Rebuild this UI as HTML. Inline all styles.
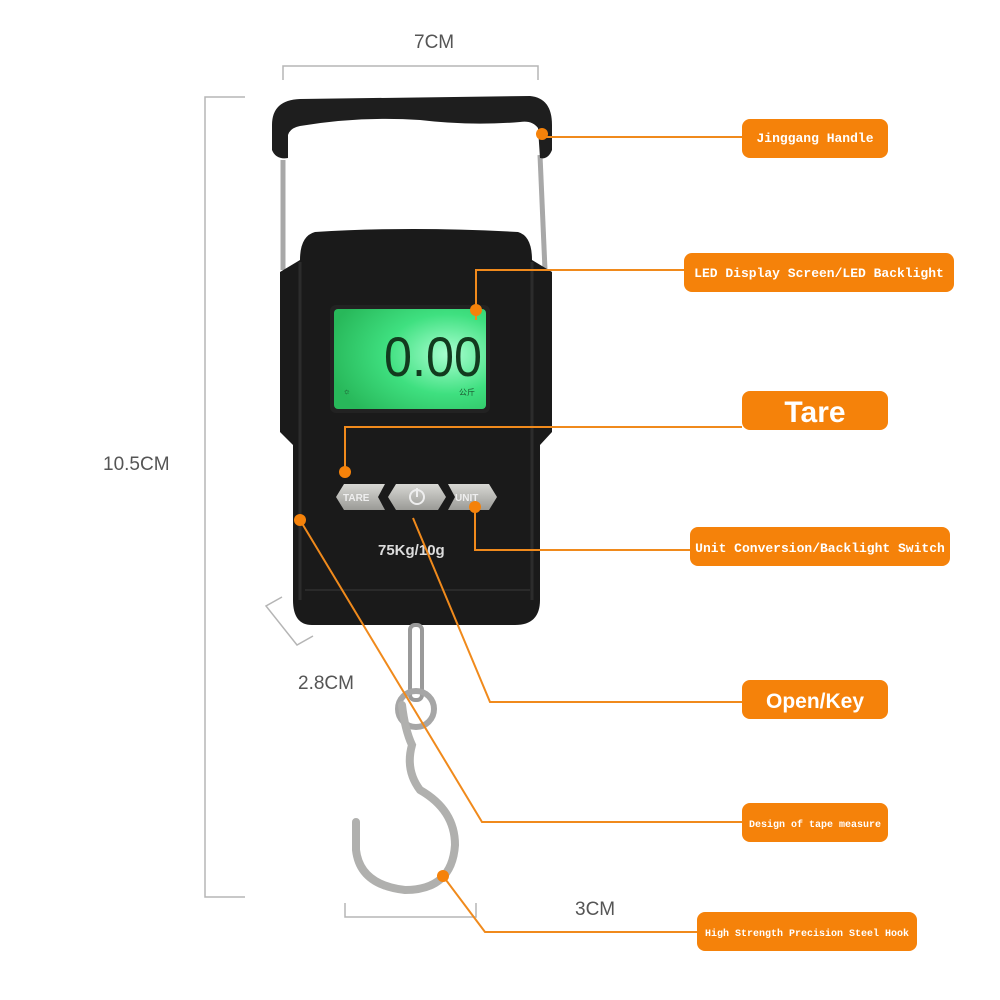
<!DOCTYPE html>
<html><head><meta charset="utf-8"><style>
html,body{margin:0;padding:0;background:#fff;width:1000px;height:1000px;overflow:hidden}
text{font-family:"Liberation Mono","DejaVu Sans Mono",monospace}
</style></head><body>
<svg width="1000" height="1000" viewBox="0 0 1000 1000" xmlns="http://www.w3.org/2000/svg">
<defs>
<radialGradient id="scr" cx="0.75" cy="0.45" r="0.8">
<stop offset="0" stop-color="#a8ffd0"/><stop offset="0.5" stop-color="#3fe080"/><stop offset="1" stop-color="#28b85a"/>
</radialGradient>
<linearGradient id="btn" x1="0" y1="0" x2="0" y2="1"><stop offset="0" stop-color="#d8d8d4"/><stop offset="1" stop-color="#9a9a96"/></linearGradient>
</defs>
<g stroke="#b5b5b5" stroke-width="1.5" fill="none">
<path d="M283,80 V66 H538 V80"/>
<path d="M245,97 H205 V897 H245"/>
<path d="M345,903 V917 H476 V903"/>
<path d="M282,597 L266,606 L297,645 L313,636"/>
</g>
<g fill="#555" font-size="19">
<text x="414" y="48" style="font-family:'Liberation Sans',sans-serif">7CM</text>
<text x="103" y="470" style="font-family:'Liberation Sans',sans-serif">10.5CM</text>
<text x="298" y="689" style="font-family:'Liberation Sans',sans-serif">2.8CM</text>
<text x="575" y="915" style="font-family:'Liberation Sans',sans-serif">3CM</text>
</g>
<g stroke="#a8a8a8" stroke-width="5" fill="none">
<path d="M283,160 L283,270"/><path d="M540,155 L545,270"/>
</g>
<path d="M272,125 Q272,100 300,99 L530,96 Q552,98 552,125 L552,150 Q548,160 540,158 L538,128 Q532,120 520,122 Q470,126 420,120 Q360,116 300,126 Q290,128 288,135 L288,158 Q276,160 272,150 Z" fill="#1e1e1e"/>
<path d="M315,232 Q410,226 518,232 Q532,236 532,260 L552,272 L552,432 L540,445 L540,600 Q540,625 515,625 L312,625 Q293,625 293,600 L293,445 L280,432 L280,272 L300,260 Q300,236 315,232 Z" fill="#1a1a1a"/>
<path d="M300,262 L300,600 M532,262 L532,600" stroke="#2c2c2c" stroke-width="3"/>
<path d="M305,590 L530,590" stroke="#2a2a2a" stroke-width="2"/>
<rect x="330" y="305" width="160" height="108" rx="6" fill="#222"/>
<rect x="334" y="309" width="152" height="100" rx="4" fill="url(#scr)"/>
<text x="384" y="376" font-size="56" fill="#123a1e" textLength="98" lengthAdjust="spacingAndGlyphs" style="font-family:'Liberation Sans',sans-serif">0.00</text>
<text x="344" y="394" font-size="9" fill="#1d5530">☼</text>
<text x="459" y="395" font-size="8" fill="#1d5530" style="font-family:'Noto Sans CJK SC',sans-serif">公斤</text>
<polygon points="344,484 385,484 378,497 385,510 344,510 336,497" fill="url(#btn)"/>
<polygon points="396,484 438,484 446,497 438,510 396,510 388,497" fill="url(#btn)"/>
<polygon points="448,484 489,484 497,497 489,510 448,510 455,497" fill="url(#btn)"/>
<text x="343" y="501" font-size="10" font-weight="bold" fill="#eee" style="font-family:'Liberation Sans',sans-serif">TARE</text>
<text x="455" y="501" font-size="10" font-weight="bold" fill="#eee" style="font-family:'Liberation Sans',sans-serif">UNIT</text>
<circle cx="417" cy="497" r="7" fill="none" stroke="#eee" stroke-width="2"/>
<line x1="417" y1="488" x2="417" y2="497" stroke="#eee" stroke-width="2"/>
<text x="378" y="555" font-size="15" font-weight="bold" fill="#ddd" style="font-family:'Liberation Sans',sans-serif">75Kg/10g</text>
<rect x="410" y="625" width="12" height="75" rx="5" fill="none" stroke="#9a9a9a" stroke-width="4"/>
<circle cx="416" cy="709" r="18" fill="none" stroke="#a6a6a6" stroke-width="6"/>
<path d="M402,705 Q405,730 412,745 Q405,770 420,790 Q455,810 455,845 Q452,890 405,890 Q360,885 356,850 L356,822" fill="none" stroke="#b0b0ae" stroke-width="8" stroke-linecap="round"/>
<g stroke="#f08a1c" stroke-width="2" fill="none">
<path d="M542,137 H742"/>
<path d="M476,320 V270 H684"/>
<path d="M345,472 V427 H742"/>
<path d="M475,507 V550 H690"/>
<path d="M413,518 L490,702 H742"/>
<path d="M300,520 L482,822 H742"/>
<path d="M443,876 L485,932 H697"/>
</g>
<g fill="#f5820a">
<circle cx="542" cy="134" r="6"/><circle cx="476" cy="310" r="6"/><circle cx="345" cy="472" r="6"/>
<circle cx="475" cy="507" r="6"/><circle cx="300" cy="520" r="6"/><circle cx="443" cy="876" r="6"/>
<rect x="742" y="119" width="146" height="39" rx="8"/>
<rect x="684" y="253" width="270" height="39" rx="8"/>
<rect x="742" y="391" width="146" height="39" rx="8"/>
<rect x="690" y="527" width="260" height="39" rx="8"/>
<rect x="742" y="680" width="146" height="39" rx="8"/>
<rect x="742" y="803" width="146" height="39" rx="8"/>
<rect x="697" y="912" width="220" height="39" rx="8"/>
</g>
<g fill="#fff" font-weight="bold">
<text x="815" y="142" font-size="13" text-anchor="middle">Jinggang Handle</text>
<text x="819" y="277" font-size="13" text-anchor="middle">LED Display Screen/LED Backlight</text>
<text x="815" y="422" font-size="30" text-anchor="middle" style="font-family:'Liberation Sans',sans-serif">Tare</text>
<text x="820" y="552" font-size="13" text-anchor="middle">Unit Conversion/Backlight Switch</text>
<text x="815" y="708" font-size="21" text-anchor="middle" style="font-family:'Liberation Sans',sans-serif">Open/Key</text>
<text x="815" y="827" font-size="10" text-anchor="middle">Design of tape measure</text>
<text x="807" y="936" font-size="10" text-anchor="middle">High Strength Precision Steel Hook</text>
</g>
</svg>
</body></html>
